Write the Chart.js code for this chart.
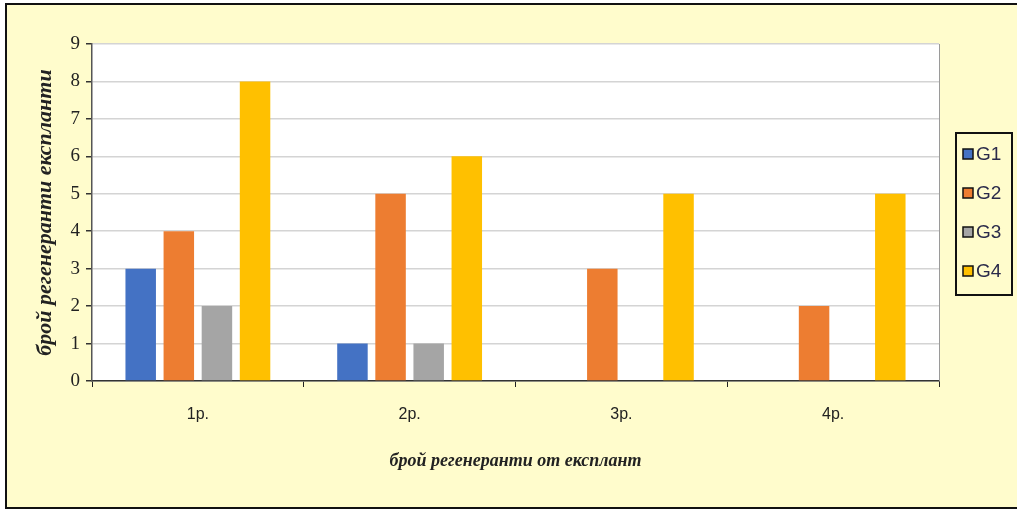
<!DOCTYPE html>
<html>
<head>
<meta charset="utf-8">
<script src="https://cdn.jsdelivr.net/npm/chart.js@4"></script>
<style>
  html, body { margin: 0; padding: 0; background: #ffffff; }
  #frame {
    position: absolute; left: 5px; top: 3px; width: 1010px; height: 502px;
    border: 2px solid #111; background: #fffccc;
  }
  #wrap { position: absolute; left: 0; top: 0; width: 1017px; height: 510px; }
</style>
</head>
<body>
<div id="frame"></div>
<div id="wrap"><canvas id="chart" width="1017" height="510"></canvas></div>
<script>
const categories = ["1р.", "2р.", "3р.", "4р."];
const g1 = [3, 1, 0, 0];
const g2 = [4, 5, 3, 2];
const g3 = [2, 1, 0, 0];
const g4 = [8, 6, 5, 5];
const seriesNames = ["G1", "G2", "G3", "G4"];
const seriesColors = ["#4472c4", "#ed7d31", "#a5a5a5", "#ffc000"];

// white plot area, grey right edge, boxed legend on the right
const plotBox = {
    id: 'plotBox',
    beforeDraw(chart) {
        const a = chart.chartArea, ctx = chart.ctx;
        ctx.save();
        ctx.fillStyle = '#ffffff';
        ctx.fillRect(a.left, a.top, a.right - a.left, a.bottom - a.top);
        ctx.restore();
    },
    afterDraw(chart) {
        const a = chart.chartArea, ctx = chart.ctx;
        ctx.save();
        ctx.strokeStyle = '#9a9a9a';
        ctx.lineWidth = 1;
        ctx.beginPath();
        ctx.moveTo(a.right + 0.5, a.top);
        ctx.lineTo(a.right + 0.5, a.bottom);
        ctx.stroke();

        const x0 = 956, y0 = 133, w = 56, h = 162, step = 39;
        ctx.fillStyle = '#fffccc';
        ctx.fillRect(x0, y0, w, h);
        ctx.strokeStyle = '#111';
        ctx.lineWidth = 2;
        ctx.strokeRect(x0, y0, w, h);
        ctx.font = '19px "Liberation Sans"';
        ctx.textBaseline = 'middle';
        chart.data.datasets.forEach((d, i) => {
            const cy = 154 + i * step;
            ctx.fillStyle = d.backgroundColor;
            ctx.fillRect(963, cy - 5, 10, 10);
            ctx.strokeStyle = '#111';
            ctx.lineWidth = 1.5;
            ctx.strokeRect(963, cy - 5, 10, 10);
            ctx.fillStyle = '#2a2a4a';
            ctx.fillText(d.label, 976, cy + 1);
        });
        ctx.restore();
    }
};

const mk = (i, data) => ({
    label: seriesNames[i],
    data: data,
    backgroundColor: seriesColors[i],
    borderWidth: 0
});

new Chart(document.getElementById("chart"), {
    type: 'bar',
    data: {
        labels: categories,
        datasets: [mk(0, g1), mk(1, g2), mk(2, g3), mk(3, g4)]
    },
    options: {
        responsive: false,
        animation: false,
        devicePixelRatio: 1,
        categoryPercentage: 0.72,
        barPercentage: 0.8,
        layout: { padding: { left: 28, top: 44, right: 78, bottom: 34 } },
        plugins: {
            tooltip: { enabled: false },
            legend: { display: false }
        },
        scales: {
            x: {
                afterFit(s) { s.height = 95; },
                grid: { display: true, drawOnChartArea: false, drawTicks: true, tickLength: 6, color: '#222', offset: true },
                border: { color: '#333', width: 1.5 },
                ticks: { color: '#222', padding: 18, font: { family: 'Liberation Sans', size: 16 } },
                title: {
                    display: true,
                    text: 'брой регенеранти от експлант',
                    color: '#222',
                    padding: { top: 22 },
                    font: { family: 'Liberation Serif', size: 18, style: 'italic', weight: 'bold' }
                }
            },
            y: {
                min: 0,
                max: 9,
                afterFit(s) { s.width = 64; },
                grid: { color: '#d4d4d4', lineWidth: 1.5, tickLength: 6, tickColor: '#333' },
                border: { color: '#555', width: 1.5 },
                ticks: { stepSize: 1, color: '#222', padding: 6, font: { family: 'Liberation Serif', size: 19 } },
                title: {
                    display: true,
                    text: 'брой регенеранти експланти',
                    color: '#222',
                    padding: { bottom: 4 },
                    font: { family: 'Liberation Serif', size: 22, style: 'italic', weight: 'bold' }
                }
            }
        }
    },
    plugins: [plotBox]
});
</script>
</body>
</html>
